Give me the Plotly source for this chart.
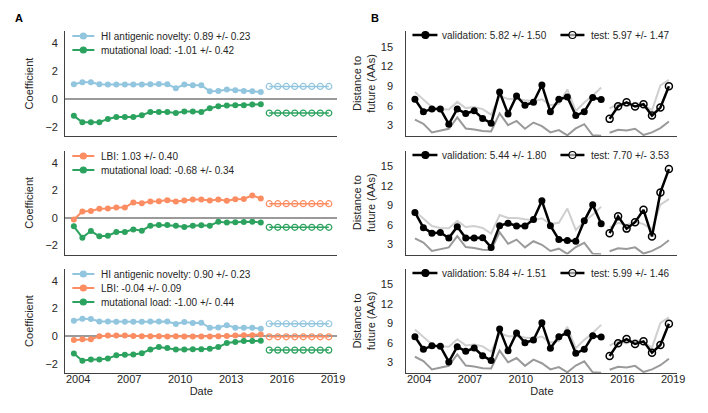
import plotly.graph_objects as go

# ---------------- data ----------------
dates_val = ["2003-10-01", "2004-04-01", "2004-10-01", "2005-04-01", "2005-10-01", "2006-04-01",
             "2006-10-01", "2007-04-01", "2007-10-01", "2008-04-01", "2008-10-01", "2009-04-01",
             "2009-10-01", "2010-04-01", "2010-10-01", "2011-04-01", "2011-10-01", "2012-04-01",
             "2012-10-01", "2013-04-01", "2013-10-01", "2014-04-01", "2014-10-01"]
dates_test = ["2015-04-01", "2015-10-01", "2016-04-01", "2016-10-01", "2017-04-01", "2017-10-01",
              "2018-04-01", "2018-10-01"]
year_ticks = ["2004", "2007", "2010", "2013", "2016", "2019"]

# Panel A, row 1
a1_hi = [1.05, 1.19, 1.19, 1.05, 1.02, 1.02, 1.02, 1.02, 1.02, 1.05, 1.07, 1.05, 0.76, 1.02, 0.98,
         0.98, 0.55, 0.57, 0.67, 0.62, 0.57, 0.55, 0.50]
a1_ml = [-1.21, -1.67, -1.67, -1.67, -1.43, -1.29, -1.29, -1.29, -1.17, -0.93, -0.93, -0.93, -1.00,
         -0.90, -0.90, -0.93, -0.67, -0.52, -0.48, -0.45, -0.45, -0.40, -0.38]
a1_hi_test = [0.89, 0.89, 0.89, 0.89, 0.89, 0.89, 0.89, 0.89]
a1_ml_test = [-1.01, -1.01, -1.01, -1.01, -1.01, -1.01, -1.01, -1.01]

# Panel A, row 2
a2_lbi = [-0.12, 0.46, 0.51, 0.66, 0.68, 0.75, 0.75, 1.12, 1.07, 1.19, 1.21, 1.29, 1.19, 1.26, 1.33,
          1.33, 1.26, 1.33, 1.24, 1.36, 1.38, 1.63, 1.41]
a2_ml = [-0.61, -1.43, -0.95, -1.33, -1.29, -1.02, -1.02, -0.83, -0.92, -0.56, -0.51, -0.51, -0.56,
         -0.66, -0.56, -0.53, -0.56, -0.27, -0.34, -0.32, -0.29, -0.27, -0.34]
a2_lbi_test = [1.03, 1.03, 1.03, 1.03, 1.03, 1.03, 1.03, 1.03]
a2_ml_test = [-0.68, -0.68, -0.68, -0.68, -0.68, -0.68, -0.68, -0.68]

# Panel A, row 3
a3_hi = [1.12, 1.27, 1.24, 1.07, 1.07, 1.05, 1.05, 1.05, 1.05, 1.07, 1.07, 1.07, 0.88, 1.02, 0.95,
         0.98, 0.61, 0.63, 0.80, 0.61, 0.61, 0.61, 0.54]
a3_lbi = [-0.27, -0.22, -0.22, 0.00, 0.05, 0.05, 0.05, 0.02, 0.00, 0.00, 0.00, -0.02, 0.00, -0.02,
          -0.02, -0.02, -0.02, 0.00, 0.02, 0.05, 0.07, 0.07, 0.12]
a3_ml = [-1.24, -1.76, -1.68, -1.68, -1.61, -1.37, -1.34, -1.32, -1.22, -0.95, -0.78, -0.85, -0.95,
         -0.95, -0.93, -0.93, -0.90, -0.78, -0.49, -0.41, -0.34, -0.34, -0.32]
a3_hi_test = [0.90, 0.90, 0.90, 0.90, 0.90, 0.90, 0.90, 0.90]
a3_lbi_test = [-0.04, -0.04, -0.04, -0.04, -0.04, -0.04, -0.04, -0.04]
a3_ml_test = [-1.00, -1.00, -1.00, -1.00, -1.00, -1.00, -1.00, -1.00]

# Panel B: distance to future (AAs)
b1_val = [7.00, 5.08, 5.53, 5.53, 3.20, 5.53, 4.82, 5.23, 4.06, 3.35, 8.11, 4.77, 7.50, 6.09, 6.54,
          9.18, 5.08, 7.00, 7.35, 4.52, 5.08, 7.25, 6.95]
b1_test = [4.01, 5.94, 6.54, 5.89, 6.24, 4.52, 5.73, 8.97]
b2_val = [7.90, 5.55, 4.70, 4.80, 3.95, 5.70, 3.95, 3.95, 4.00, 2.50, 5.85, 6.25, 5.80, 5.80, 6.80,
          9.70, 5.85, 3.70, 3.55, 3.45, 6.60, 9.10, 6.15]
b2_test = [4.70, 7.30, 5.40, 6.40, 8.30, 4.20, 11.00, 14.60]
b3_val = [6.98, 5.04, 5.60, 5.50, 3.10, 5.45, 4.73, 5.24, 4.07, 3.31, 8.15, 4.84, 7.54, 6.06, 6.47,
          9.12, 5.19, 6.98, 7.59, 4.43, 5.04, 7.13, 6.93]
b3_test = [4.02, 5.96, 6.62, 5.86, 6.27, 4.53, 5.70, 8.97]

# benchmark lines (same in every B panel)
naive_val = [8.10, 6.90, 5.80, 5.50, 5.45, 6.60, 5.65, 5.80, 5.50, 4.65, 7.50, 7.05, 7.05, 6.85, 6.70,
             7.00, 6.10, 6.30, 8.50, 5.20, 6.50, 7.55, 8.80]
naive_test = [5.60, 6.30, 5.95, 6.50, 6.10, 5.30, 9.10, 9.95]
best_val = [3.90, 3.25, 1.95, 2.20, 2.50, 4.25, 2.55, 2.40, 2.15, 2.10, 4.85, 3.05, 3.70, 2.50, 3.45,
            2.90, 1.95, 2.30, 1.50, 2.55, 3.20, 1.50, 1.45]
best_test = [1.90, 2.35, 2.25, 2.50, 1.55, 1.95, 2.60, 3.60]

legend_a = [
    [("HI antigenic novelty: 0.89 +/- 0.23", "hi"), ("mutational load: -1.01 +/- 0.42", "ml")],
    [("LBI: 1.03 +/- 0.40", "lbi"), ("mutational load: -0.68 +/- 0.34", "ml")],
    [("HI antigenic novelty: 0.90 +/- 0.23", "hi"), ("LBI: -0.04 +/- 0.09", "lbi"),
     ("mutational load: -1.00 +/- 0.44", "ml")],
]
legend_b = [
    ("validation: 5.82 +/- 1.50", "test: 5.97 +/- 1.47"),
    ("validation: 5.44 +/- 1.80", "test: 7.70 +/- 3.53"),
    ("validation: 5.84 +/- 1.51", "test: 5.99 +/- 1.46"),
]

# ---------------- styling ----------------
W, H = 708, 413
FONT = "Liberation Sans, Arial, sans-serif"
TXT = "#262626"
COL = {"hi": "#92c5de", "lbi": "#fc8d62", "ml": "#2ca25f"}
AXCOL = "#404040"

left_x = (58, 333)
right_x = (403, 677)
rows_y = [(23, 128), (143, 246.5), (261, 365)]


def xdom(px):
    return [px[0] / W, px[1] / W]


def ydom(py):
    return [1 - py[1] / H, 1 - py[0] / H]


fig = go.Figure()

a_series = [
    [(a1_hi, a1_hi_test, "hi"), (a1_ml, a1_ml_test, "ml")],
    [(a2_lbi, a2_lbi_test, "lbi"), (a2_ml, a2_ml_test, "ml")],
    [(a3_hi, a3_hi_test, "hi"), (a3_lbi, a3_lbi_test, "lbi"), (a3_ml, a3_ml_test, "ml")],
]
b_series = [(b1_val, b1_test), (b2_val, b2_test), (b3_val, b3_test)]

shapes = []
annotations = []


def legend_entry(xa, ya, xline, xmark, xtext, yoff, color, text, filled, msize, lw):
    xr = f"{xa} domain"
    yr = f"{ya} domain"
    shapes.append(dict(type="line", xref=xr, yref=yr, xsizemode="pixel", ysizemode="pixel",
                       xanchor=0, yanchor=1, x0=xline[0], x1=xline[1], y0=yoff, y1=yoff,
                       line=dict(color=color, width=lw)))
    r = msize / 2
    shapes.append(dict(type="circle", xref=xr, yref=yr, xsizemode="pixel", ysizemode="pixel",
                       xanchor=0, yanchor=1, x0=xmark - r, x1=xmark + r, y0=yoff - r, y1=yoff + r,
                       fillcolor=color if filled else "rgba(255,255,255,0.6)",
                       line=dict(color=color, width=1.2)))
    annotations.append(dict(xref=xr, yref=yr, x=0, y=1, xshift=xtext, yshift=yoff,
                            xanchor="left", yanchor="middle", showarrow=False, text=text,
                            font=dict(family=FONT, size=10, color=TXT)))


layout_axes = {}
for r in range(3):
    for c in range(2):
        idx = r * 2 + c + 1
        xa = "x" if idx == 1 else f"x{idx}"
        ya = "y" if idx == 1 else f"y{idx}"
        xkey = "xaxis" if idx == 1 else f"xaxis{idx}"
        ykey = "yaxis" if idx == 1 else f"yaxis{idx}"
        bottom = r == 2
        layout_axes[xkey] = dict(
            domain=xdom(left_x if c == 0 else right_x), anchor=ya, type="date",
            range=["2003-04-01", "2019-04-01"], tickvals=[f"{y}-01-01" for y in year_ticks],
            ticktext=year_ticks, showticklabels=bottom, ticks="", ticklen=0, ticklabelstandoff=-4,
            showgrid=False, zeroline=False,
            showline=True, linecolor=AXCOL, linewidth=1.3,
            tickfont=dict(family=FONT, size=11, color=TXT),
            title=dict(text="Date" if bottom else "", font=dict(family=FONT, size=11, color=TXT),
                       standoff=0),
        )
        if c == 0:
            layout_axes[ykey] = dict(
                domain=ydom(rows_y[r]), anchor=xa, range=[-2.65, 4.85], tickvals=[-2, 0, 2, 4],
                ticks="", ticklen=0, ticklabelstandoff=4,
                showgrid=False, zeroline=True, zerolinecolor="#9a9a9a", zerolinewidth=2,
                showline=True, linecolor=AXCOL, linewidth=1.3,
                tickfont=dict(family=FONT, size=11, color=TXT),
                title=dict(text="Coefficient", font=dict(family=FONT, size=11, color=TXT), standoff=9),
            )
            for vals, tvals, key in a_series[r]:
                fig.add_trace(go.Scatter(x=dates_val, y=vals, xaxis=xa, yaxis=ya, mode="lines+markers",
                                         line=dict(color=COL[key], width=2),
                                         marker=dict(color=COL[key], size=6), showlegend=False,
                                         cliponaxis=False))
                fig.add_trace(go.Scatter(x=dates_test, y=tvals, xaxis=xa, yaxis=ya, mode="lines+markers",
                                         line=dict(color=COL[key], width=1.5),
                                         marker=dict(color=COL[key], size=6, symbol="circle-open",
                                                     line=dict(width=1.2)),
                                         showlegend=False, cliponaxis=False))
            for k, (text, key) in enumerate(legend_a[r]):
                legend_entry(xa, ya, (7, 29), 18, 34, -5 - 14 * k, COL[key], text, True, 6, 2)
        else:
            layout_axes[ykey] = dict(
                domain=ydom(rows_y[r]), anchor=xa, range=[1.4, 17.4], tickvals=[3, 6, 9, 12, 15],
                ticks="", ticklen=0, ticklabelstandoff=10,
                showgrid=False, zeroline=False,
                showline=True, linecolor=AXCOL, linewidth=1.3,
                tickfont=dict(family=FONT, size=11, color=TXT),
                title=dict(text="Distance to<br>future (AAs)", font=dict(family=FONT, size=11, color=TXT),
                           standoff=2),
            )
            for xs, ys, colr in [(dates_val, naive_val, "#cfcfcf"), (dates_test, naive_test, "#cfcfcf"),
                                 (dates_val, best_val, "#9a9a9a"), (dates_test, best_test, "#9a9a9a")]:
                fig.add_trace(go.Scatter(x=xs, y=ys, xaxis=xa, yaxis=ya, mode="lines",
                                         line=dict(color=colr, width=2), showlegend=False,
                                         hoverinfo="skip", cliponaxis=False))
            vals, tvals = b_series[r]
            fig.add_trace(go.Scatter(x=dates_val, y=vals, xaxis=xa, yaxis=ya, mode="lines+markers",
                                     line=dict(color="black", width=2.5),
                                     marker=dict(color="black", size=7), showlegend=False,
                                     cliponaxis=False))
            fig.add_trace(go.Scatter(x=dates_test, y=tvals, xaxis=xa, yaxis=ya, mode="lines+markers",
                                     line=dict(color="black", width=2.5),
                                     marker=dict(color="black", size=7, symbol="circle-open",
                                                 line=dict(width=1.5)),
                                     showlegend=False, cliponaxis=False))
            vtext, ttext = legend_b[r]
            legend_entry(xa, ya, (6, 31), 19, 34, -4, "black", vtext, True, 7, 2.5)
            legend_entry(xa, ya, (154, 178), 166, 183, -4, "black", ttext, False, 7, 2.5)

annotations.append(dict(xref="paper", yref="paper", x=5 / W, y=1 - 10 / H, xanchor="left",
                        yanchor="middle", showarrow=False, text="<b>A</b>",
                        font=dict(family=FONT, size=11, color="black")))
annotations.append(dict(xref="paper", yref="paper", x=365 / W, y=1 - 10 / H, xanchor="left",
                        yanchor="middle", showarrow=False, text="<b>B</b>",
                        font=dict(family=FONT, size=11, color="black")))

fig.update_layout(
    width=W, height=H, margin=dict(l=0, r=0, t=0, b=0),
    paper_bgcolor="white", plot_bgcolor="white",
    font=dict(family=FONT, size=11, color=TXT),
    shapes=shapes, annotations=annotations, showlegend=False,
    **layout_axes,
)

fig.write_html("out.html")
